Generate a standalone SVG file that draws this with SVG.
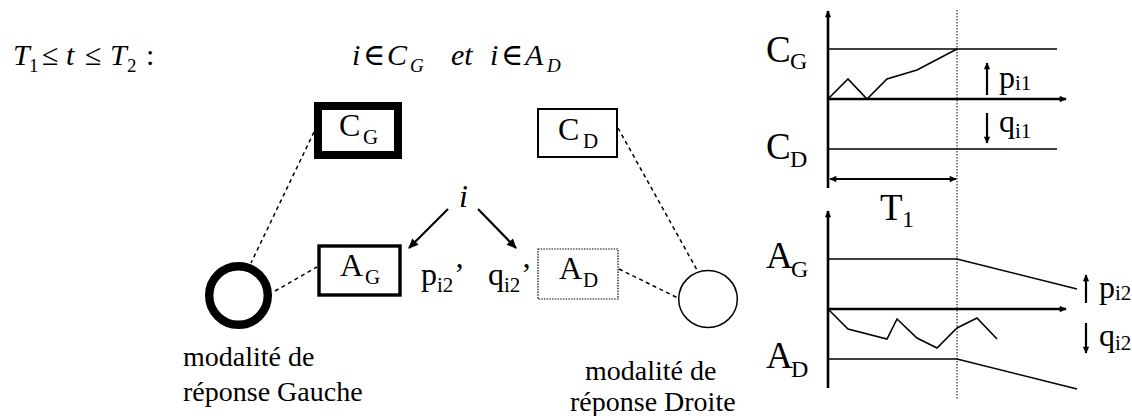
<svg xmlns="http://www.w3.org/2000/svg" width="1132" height="416" viewBox="0 0 1132 416" font-family="Liberation Serif, Tinos, DejaVu Serif, serif">
<style>
text{font-family:'Liberation Serif','Tinos','DejaVu Serif',serif;fill:#000}
.it{font-style:italic}
.hd{font-size:30px}
.hs{font-size:19px}
.lb{font-size:32px}
.ls{font-size:21px}
.cl{font-size:37px}
.cs{font-size:24px}
.pq{font-size:32px}
.pqs{font-size:21px}
.cap{font-size:28px}
.dash{stroke:#000;stroke-width:1.5;stroke-dasharray:4 3.5;fill:none}
.ln{stroke:#000;stroke-width:1.6;fill:none}
.ax{stroke:#000;stroke-width:2.6;fill:none}
</style>
<defs>
<marker id="ah" viewBox="0 0 10 10" refX="9" refY="5" markerWidth="13" markerHeight="10" markerUnits="userSpaceOnUse" orient="auto-start-reverse"><path d="M0,0.5 L10,5 L0,9.5 z" fill="#000"/></marker>
<marker id="as" viewBox="0 0 10 10" refX="9" refY="5" markerWidth="9" markerHeight="7" markerUnits="userSpaceOnUse" orient="auto-start-reverse"><path d="M0,0.5 L10,5 L0,9.5 z" fill="#000"/></marker>
</defs>

<g id="header-left">
<text class="hd"><tspan class="it" x="13" y="65">T</tspan><tspan class="hs" x="29" y="72">1</tspan><tspan x="42" y="65">≤</tspan><tspan class="it" x="66" y="65">t</tspan><tspan x="85" y="65">≤</tspan><tspan class="it" x="110" y="65">T</tspan><tspan class="hs" x="127" y="72">2</tspan><tspan x="146" y="65">:</tspan></text>
</g>
<g id="header-right">
<text class="hd it"><tspan x="352" y="65">i</tspan><tspan style="font-style:normal" x="363" y="65">∈</tspan><tspan x="387" y="65">C</tspan><tspan class="hs" x="410" y="72">G</tspan><tspan x="451" y="65">et</tspan><tspan x="490" y="65">i</tspan><tspan style="font-style:normal" x="501" y="65">∈</tspan><tspan x="525" y="65">A</tspan><tspan class="hs" x="547" y="72">D</tspan></text>
</g>

<g id="connectors">
<line class="dash" x1="314" y1="132" x2="251" y2="263"/>
<line class="dash" x1="275" y1="291" x2="317" y2="267"/>
<line class="dash" x1="618" y1="128" x2="697" y2="270"/>
<line class="dash" x1="619" y1="269" x2="678" y2="298"/>
<line x1="448" y1="209" x2="409" y2="248" stroke="#000" stroke-width="2.2" marker-end="url(#ah)"/>
<line x1="478" y1="209" x2="516" y2="248" stroke="#000" stroke-width="2.2" marker-end="url(#ah)"/>
</g>

<g id="node-CG">
<rect x="318" y="106" width="80" height="49" fill="#fff" stroke="#000" stroke-width="8"/>
<text class="lb"><tspan x="339" y="136">C</tspan><tspan class="ls" x="363" y="144">G</tspan></text>
</g>
<g id="node-CD">
<rect x="538" y="109" width="79" height="48" fill="#fff" stroke="#000" stroke-width="2"/>
<text class="lb"><tspan x="558" y="140">C</tspan><tspan class="ls" x="583" y="148">D</tspan></text>
</g>
<g id="node-i">
<text class="lb it" x="459" y="207">i</text>
</g>
<g id="node-AG">
<rect x="319" y="246" width="81" height="49" fill="#fff" stroke="#000" stroke-width="3.4"/>
<text class="lb"><tspan x="340" y="276">A</tspan><tspan class="ls" x="365" y="284">G</tspan></text>
</g>
<g id="node-AD">
<rect x="538" y="249" width="80" height="50" fill="#fff" stroke="#000" stroke-width="1.2" stroke-dasharray="1.5 1.2"/>
<text class="lb"><tspan x="559" y="279">A</tspan><tspan class="ls" x="583" y="287">D</tspan></text>
</g>
<g id="label-p">
<text class="lb"><tspan x="421" y="285">p</tspan><tspan class="ls" x="437" y="292">i2</tspan><tspan x="454" y="285">’</tspan></text>
</g>
<g id="label-q">
<text class="lb"><tspan x="488" y="285">q</tspan><tspan class="ls" x="504" y="292">i2</tspan><tspan x="521" y="285">’</tspan></text>
</g>
<g id="node-left-circle">
<circle cx="238.5" cy="295.5" r="29.3" fill="#fff" stroke="#000" stroke-width="8.4"/>
<text class="cap"><tspan x="183" y="366">modalité de</tspan><tspan x="183" y="401">réponse Gauche</tspan></text>
</g>
<g id="node-right-circle">
<ellipse cx="708" cy="299" rx="29.3" ry="28.5" fill="#fff" stroke="#000" stroke-width="1.5"/>
<text class="cap"><tspan x="585" y="380">modalité de</tspan><tspan x="570" y="411">réponse Droite</tspan></text>
</g>

<g id="chart">
<line x1="957" y1="10" x2="957" y2="400" stroke="#000" stroke-width="1" stroke-dasharray="1.5 1.5"/>
<line class="ax" x1="828" y1="188" x2="828" y2="11" marker-end="url(#as)"/>
<line class="ax" x1="828" y1="99" x2="1066" y2="99" marker-end="url(#as)"/>
<line class="ln" x1="828" y1="49" x2="1057" y2="49"/>
<line class="ln" x1="828" y1="149" x2="1057" y2="149"/>
<polyline class="ln" points="828,99 848,79 867,99 887,79 917,70 957,49"/>
<line x1="830" y1="179" x2="956" y2="179" stroke="#000" stroke-width="2.2" marker-start="url(#as)" marker-end="url(#as)"/>
<line x1="987" y1="95" x2="987" y2="63" stroke="#000" stroke-width="2.2" marker-end="url(#as)"/>
<line x1="987" y1="113" x2="987" y2="143" stroke="#000" stroke-width="2.2" marker-end="url(#as)"/>
<text class="pq"><tspan x="999" y="88">p</tspan><tspan class="pqs" x="1015" y="90">i1</tspan></text>
<text class="pq"><tspan x="999" y="132">q</tspan><tspan class="pqs" x="1015" y="138">i1</tspan></text>
<text class="cl"><tspan x="766" y="62">C</tspan><tspan class="cs" x="790" y="69">G</tspan></text>
<text class="cl"><tspan x="766" y="159">C</tspan><tspan class="cs" x="790" y="167">D</tspan></text>
<text class="cl"><tspan x="880" y="220">T</tspan><tspan class="cs" x="902" y="227">1</tspan></text>

<line class="ax" x1="828" y1="388" x2="828" y2="211" marker-end="url(#as)"/>
<line class="ax" x1="828" y1="309" x2="1066" y2="309" marker-end="url(#as)"/>
<polyline class="ln" points="828,259 957,259 1077,289"/>
<polyline class="ln" points="828,359 957,359 1077,389"/>
<polyline class="ln" points="828,309 848,329 887,339 897,319 917,338 937,348 957,328 977,318 997,339"/>
<line x1="1086" y1="303" x2="1086" y2="275" stroke="#000" stroke-width="2.2" marker-end="url(#as)"/>
<line x1="1086" y1="323" x2="1086" y2="353" stroke="#000" stroke-width="2.2" marker-end="url(#as)"/>
<text class="pq"><tspan x="1099" y="298">p</tspan><tspan class="pqs" x="1115" y="300">i2</tspan></text>
<text class="pq"><tspan x="1099" y="346">q</tspan><tspan class="pqs" x="1115" y="350">i2</tspan></text>
<text class="cl"><tspan x="766" y="268">A</tspan><tspan class="cs" x="791" y="277">G</tspan></text>
<text class="cl"><tspan x="766" y="368">A</tspan><tspan class="cs" x="791" y="377">D</tspan></text>
</g>
</svg>
